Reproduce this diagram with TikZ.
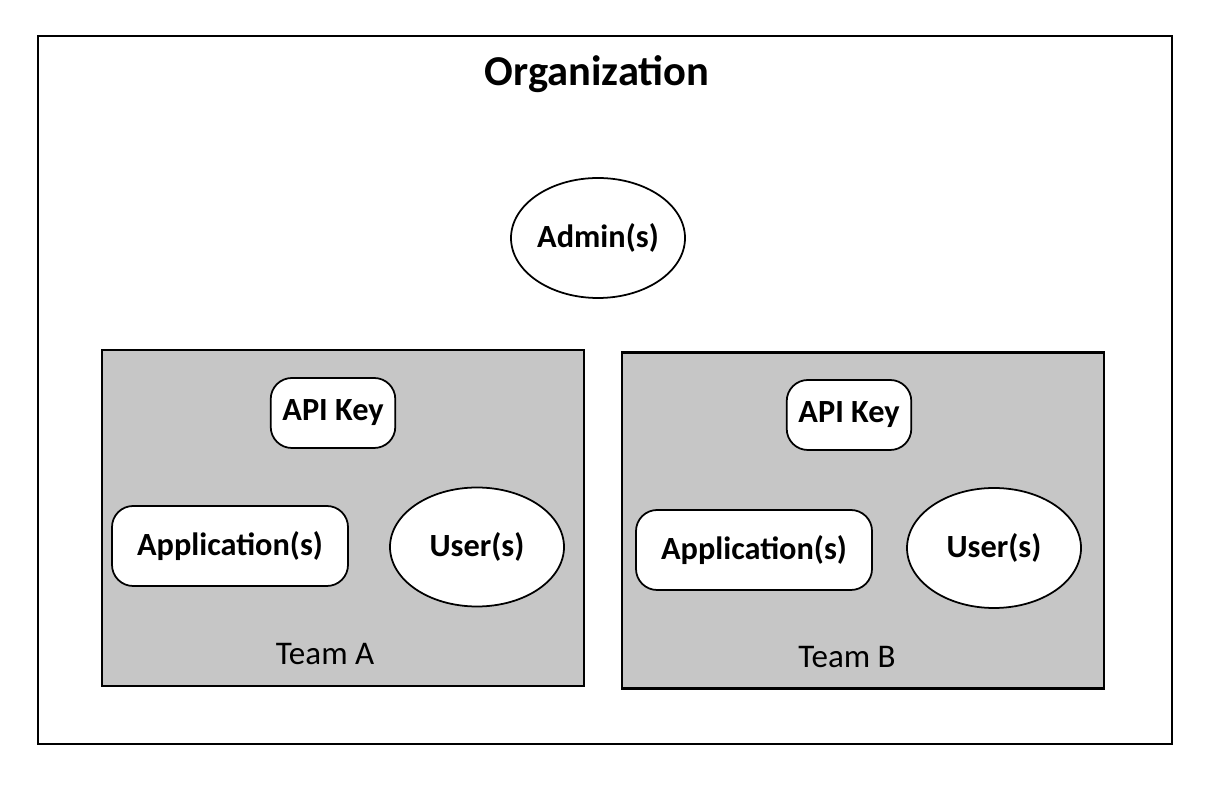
\documentclass[tikz,border=0pt]{standalone}
\usepackage{fontspec}
\setmainfont{Carlito}
\usetikzlibrary{shapes.geometric}

\begin{document}
\begin{tikzpicture}[
    box/.style={draw, line width=0.6pt},
    team/.style={draw, line width=0.6pt, fill=gray!45,
        minimum width=4.82cm, minimum height=3.36cm},
    item/.style={draw, line width=0.5pt, fill=white, rounded corners=6pt,
        font=\bfseries\fontsize{9.2}{11}\selectfont},
    person/.style={draw, line width=0.5pt, fill=white, ellipse, inner sep=0pt,
        minimum width=1.74cm, minimum height=1.19cm,
        font=\bfseries\fontsize{9.2}{11}\selectfont},
    label/.style={font=\fontsize{9.4}{11}\selectfont}
    ]
\useasboundingbox (0,0) rectangle (12.22,8);
\node [box,
    minimum width=11.34cm,
    minimum height=7.08cm
    ] (org) at (6.05,4.10) {};
\node [font=\bfseries\fontsize{12.1}{14}\selectfont] (orgtitle) at (5.97,7.26) {Organization};
\node [person, minimum height=1.20cm] (admin) at (5.98,5.62) {Admin(s)};

\node [team] (teamA) at (3.43,2.82) {};
\node [item, minimum width=1.22cm, minimum height=0.70cm] (keyA) at (3.33,3.87) {API Key};
\node [item, minimum width=2.36cm, minimum height=0.80cm] (appA) at (2.30,2.54) {Application(s)};
\node [person] (userA) at (4.77,2.53) {User(s)};
\node [label] (labelA) at (3.25,1.46) {Team A};

\node [team] (teamB) at (8.63,2.795) {};
\node [item, minimum width=1.22cm, minimum height=0.70cm] (keyB) at (8.49,3.85) {API Key};
\node [item, minimum width=2.36cm, minimum height=0.80cm] (appB) at (7.54,2.50) {Application(s)};
\node [person, minimum height=1.20cm] (userB) at (9.94,2.52) {User(s)};
\node [label] (labelB) at (8.47,1.43) {Team B};
\end{tikzpicture}
\end{document}
